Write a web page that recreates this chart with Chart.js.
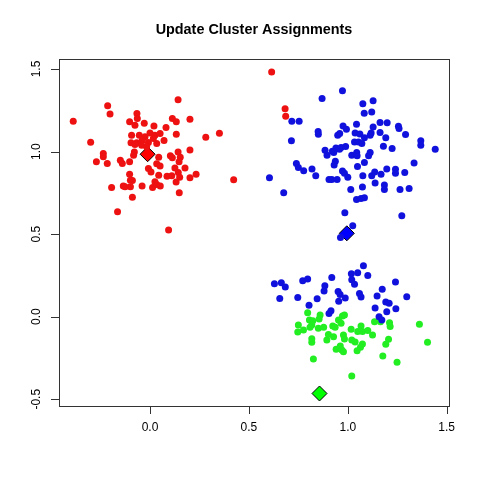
<!DOCTYPE html>
<html lang="en">
<head>
  <meta charset="UTF-8">
  <title>Update Cluster Assignments</title>
  <style>
    body { margin: 0; background: #fff; }
    canvas { display: block; }
  </style>
  <script src="https://cdn.jsdelivr.net/npm/chart.js"></script>
</head>
<body>
  <canvas id="chart" width="480" height="480"></canvas>
  <script>
    const title = "Update Cluster Assignments";
    const xTicks = [0.0, 0.5, 1.0, 1.5];
    const yTicks = [-0.5, 0.0, 0.5, 1.0, 1.5];

    // cluster 1 (red)
    const redPts = [
      [-0.388,1.184],[-0.214,1.278],[-0.202,1.228],[0.142,1.313],[-0.300,1.056],
      [-0.066,1.230],[-0.064,1.200],[-0.103,1.180],[-0.076,1.159],[-0.029,1.171],
      [0.020,1.155],[0.081,1.145],[0.113,1.200],[0.133,1.180],[0.202,1.196],
      [-0.093,1.099],[-0.054,1.099],[-0.025,1.089],[0.000,1.113],[0.025,1.099],
      [0.051,1.109],[0.133,1.105],[0.282,1.087],[0.351,1.111],[-0.096,1.053],
      [-0.067,1.053],[-0.039,1.069],[-0.008,1.055],[0.034,1.049],[0.071,1.067],
      [0.017,1.079],[-0.042,1.038],[-0.076,1.043],[-0.017,1.029],[-0.079,0.998],
      [-0.083,0.978],[-0.236,0.988],[-0.236,0.968],[-0.271,0.938],[-0.216,0.928],
      [-0.150,0.948],[-0.140,0.928],[-0.103,0.938],[0.044,0.966],[0.034,0.926],
      [0.051,0.913],[0.103,0.974],[0.113,0.962],[0.142,0.998],[0.153,0.966],
      [0.147,0.938],[0.202,1.010],[0.177,0.901],[0.126,0.901],[-0.008,0.897],
      [0.005,0.877],[-0.103,0.863],[0.044,0.857],[0.086,0.851],[0.110,0.853],
      [0.143,0.873],[0.150,0.845],[0.233,0.863],[0.202,0.841],[-0.099,0.827],
      [-0.089,0.825],[0.025,0.817],[0.132,0.815],[0.423,0.829],[-0.194,0.783],
      [-0.135,0.791],[-0.126,0.787],[-0.099,0.787],[-0.040,0.791],[0.013,0.783],
      [0.034,0.801],[0.052,0.791],[0.148,0.751],[-0.089,0.724],[-0.164,0.636],
      [0.094,0.525],[0.615,1.482],[0.683,1.260],[0.686,1.214]
    ];

    // cluster 2 (blue)
    const bluePts = [
      [0.973,1.369],[0.870,1.321],[1.076,1.289],[1.128,1.307],[1.083,1.232],
      [1.121,1.240],[0.717,1.184],[0.754,1.184],[0.850,1.121],[0.851,1.105],
      [0.976,1.155],[0.993,1.135],[1.044,1.166],[0.949,1.099],[0.959,1.109],
      [1.037,1.113],[1.061,1.107],[1.128,1.149],[1.118,1.113],[1.113,1.099],
      [1.163,1.176],[1.199,1.174],[1.163,1.115],[1.192,1.083],[1.256,1.153],
      [1.259,1.139],[1.292,1.103],[1.034,1.058],[1.054,1.058],[1.071,1.049],
      [1.084,1.083],[0.715,1.065],[0.940,1.022],[0.966,1.024],[0.989,1.030],
      [1.180,1.032],[1.224,1.018],[1.369,1.065],[1.369,1.038],[1.442,1.014],
      [0.885,1.008],[0.922,1.002],[0.929,0.994],[0.958,1.014],[0.895,0.978],
      [1.020,0.978],[1.045,0.994],[1.047,0.974],[1.113,0.994],[1.105,0.974],
      [0.937,0.942],[0.931,0.918],[1.084,0.934],[0.740,0.928],[0.750,0.904],
      [0.777,0.884],[0.819,0.894],[0.838,0.853],[1.049,0.910],[0.973,0.882],
      [0.983,0.868],[1.000,0.845],[0.905,0.831],[0.919,0.831],[0.946,0.831],
      [1.076,0.853],[1.121,0.853],[1.136,0.877],[1.168,0.863],[1.197,0.895],
      [1.241,0.893],[1.241,0.869],[1.288,0.873],[1.335,0.930],[0.604,0.841],
      [1.138,0.809],[1.185,0.797],[1.185,0.770],[1.264,0.770],[1.310,0.776],
      [1.015,0.770],[1.074,0.785],[0.676,0.750],[1.044,0.710],[1.067,0.716],
      [1.084,0.720],[0.985,0.629],[1.273,0.611],[1.025,0.551],[0.963,0.480],
      [0.629,0.200],[0.664,0.206],[0.684,0.180],[0.656,0.111],[0.772,0.218],
      [0.797,0.228],[0.747,0.117],[0.804,0.069],[0.845,0.109],[0.884,0.188],
      [0.880,0.155],[0.919,0.238],[0.951,0.153],[0.961,0.135],[0.954,0.093],
      [0.987,0.113],[1.018,0.260],[1.020,0.224],[1.050,0.266],[1.034,0.196],
      [1.079,0.309],[1.101,0.250],[1.059,0.141],[1.067,0.119],[1.148,0.125],
      [1.174,0.167],[1.241,0.210],[1.298,0.121],[1.192,0.089],[1.209,0.081],
      [1.138,0.053],[1.197,0.030],[1.243,0.048],[0.915,0.036],[0.905,0.020],
      [1.158,0.000],[1.172,-0.020]
    ];

    // cluster 3 (green)
    const greenPts = [
      [0.797,0.024],[0.806,-0.020],[0.823,-0.024],[0.750,-0.050],[0.747,-0.093],
      [0.776,-0.081],[0.818,-0.050],[0.809,-0.064],[0.860,0.010],[0.855,-0.014],
      [0.851,-0.070],[0.878,-0.064],[0.818,-0.133],[0.818,-0.155],[0.826,-0.256],
      [0.894,-0.141],[0.902,-0.107],[0.928,-0.121],[0.924,-0.056],[0.936,-0.064],
      [0.953,-0.020],[0.966,-0.040],[0.973,0.004],[0.983,0.010],[0.978,-0.111],
      [0.983,-0.135],[0.941,-0.197],[0.962,-0.177],[0.970,-0.202],[0.978,-0.212],
      [1.017,-0.076],[1.020,-0.141],[1.037,-0.153],[1.050,-0.090],[1.067,-0.056],
      [1.074,-0.090],[1.101,-0.084],[1.125,-0.111],[1.074,-0.165],[1.064,-0.185],
      [1.047,-0.206],[1.020,-0.359],[1.135,-0.030],[1.165,-0.030],[1.211,-0.036],
      [1.214,-0.060],[1.206,-0.137],[1.192,-0.167],[1.177,-0.238],[1.249,-0.276],
      [1.362,-0.046],[1.403,-0.155]
    ];

    // current centroids
    const centers = [[-0.012, 0.984], [0.995, 0.505], [0.857, -0.465]];
    const centerColors = ["#ff0000", "#0000ff", "#00ff00"];

    const toXY = arr => arr.map(p => ({ x: p[0], y: p[1] }));

    const rFrame = {
      id: 'rFrame',
      afterDraw(chart) {
        const { ctx, chartArea: a, scales } = chart;
        ctx.save();
        ctx.strokeStyle = '#333';
        ctx.lineWidth = 1;
        ctx.strokeRect(a.left + 0.5, a.top + 0.5, a.right - a.left, a.bottom - a.top);

        ctx.fillStyle = '#000';
        ctx.font = '12px "Liberation Sans", Arial, sans-serif';
        ctx.beginPath();
        xTicks.forEach(v => {
          const px = Math.round(scales.x.getPixelForValue(v)) + 0.5;
          ctx.moveTo(px, a.bottom);
          ctx.lineTo(px, a.bottom + 8);
        });
        yTicks.forEach(v => {
          const py = Math.round(scales.y.getPixelForValue(v)) + 0.5;
          ctx.moveTo(a.left, py);
          ctx.lineTo(a.left - 8, py);
        });
        ctx.stroke();

        ctx.textAlign = 'center';
        ctx.textBaseline = 'middle';
        xTicks.forEach(v => {
          ctx.fillText(v.toFixed(1), scales.x.getPixelForValue(v), a.bottom + 22);
        });
        yTicks.forEach(v => {
          const py = scales.y.getPixelForValue(v);
          ctx.save();
          ctx.translate(a.left - 22, py);
          ctx.rotate(-Math.PI / 2);
          ctx.fillText(v.toFixed(1), 0, 0);
          ctx.restore();
        });

        ctx.font = 'bold 14.4px "Liberation Sans", Arial, sans-serif';
        ctx.fillText(title, (a.left + a.right) / 2, 30);
        ctx.restore();
      }
    };

    new Chart(document.getElementById('chart').getContext('2d'), {
      type: 'scatter',
      data: {
        datasets: [
          { label: 'c1', data: toXY(redPts), backgroundColor: '#ee1111', borderColor: '#ee1111', pointRadius: 3.5, borderWidth: 0 },
          { label: 'c2', data: toXY(bluePts), backgroundColor: '#1111dd', borderColor: '#1111dd', pointRadius: 3.5, borderWidth: 0 },
          { label: 'c3', data: toXY(greenPts), backgroundColor: '#22ee22', borderColor: '#22ee22', pointRadius: 3.5, borderWidth: 0 },
          { label: 'centers', data: toXY(centers), backgroundColor: centerColors, borderColor: '#000', borderWidth: 1, pointStyle: 'rectRot', pointRadius: 7.5 }
        ]
      },
      options: {
        responsive: false,
        animation: false,
        layout: { padding: { left: 59, right: 31, top: 59, bottom: 74 } },
        plugins: { legend: { display: false }, tooltip: { enabled: false } },
        scales: {
          x: { display: false, min: -0.460, max: 1.5116 },
          y: { display: false, min: -0.5407, max: 1.5605 }
        }
      },
      plugins: [rFrame]
    });
  </script>
</body>
</html>
